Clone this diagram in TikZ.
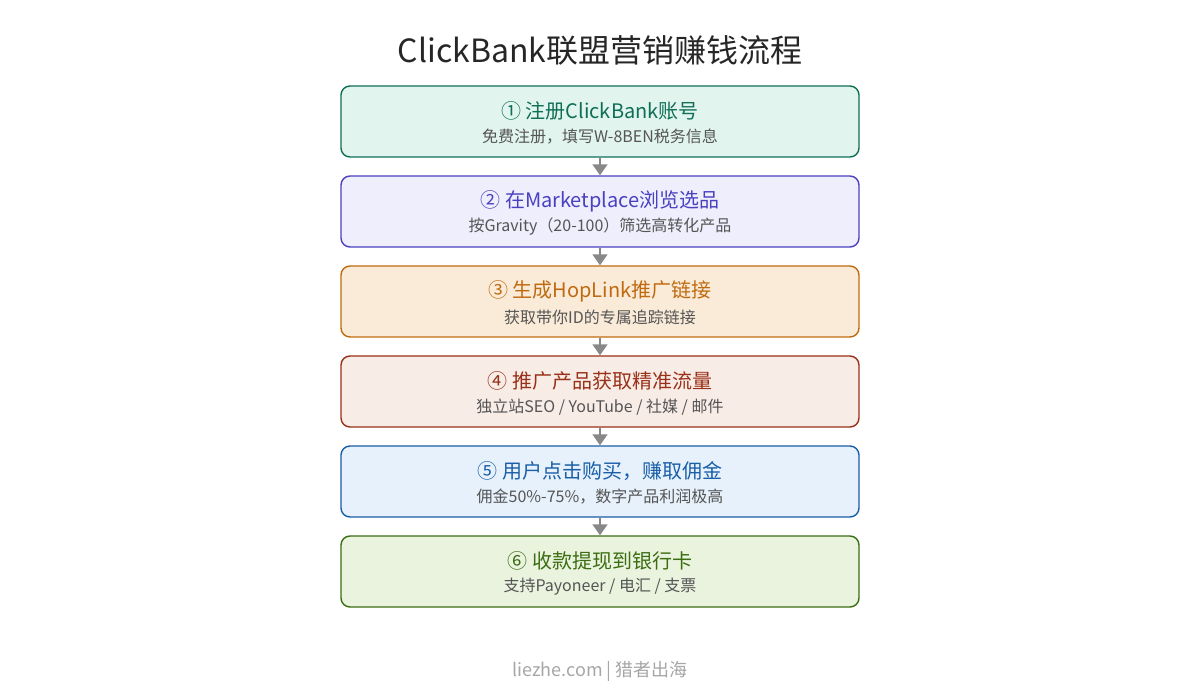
\documentclass[tikz,border=0pt]{standalone}
\usepackage{fontspec}
\setmainfont{Noto Sans CJK SC}
\usetikzlibrary{arrows.meta,positioning}
\definecolor{fgA}{HTML}{0F6E56}\definecolor{bgA}{HTML}{E1F5EE}
\definecolor{fgB}{HTML}{4A40C0}\definecolor{bgB}{HTML}{EEEEFC}
\definecolor{fgC}{HTML}{C06A10}\definecolor{bgC}{HTML}{FAEBD8}
\definecolor{fgD}{HTML}{993018}\definecolor{bgD}{HTML}{F8ECE7}
\definecolor{fgE}{HTML}{1A5EA8}\definecolor{bgE}{HTML}{E6F1FB}
\definecolor{fgF}{HTML}{3B6D11}\definecolor{bgF}{HTML}{EAF3DE}
\definecolor{subtxt}{HTML}{555555}
\definecolor{arrowgray}{HTML}{888888}
\tikzset{
  stepbox/.style={draw=#1, line width=1.4pt, rounded corners=9pt, minimum width=518pt, minimum height=71pt},
  steparrow/.style={draw=arrowgray, line width=1.5pt, -{Triangle[length=11pt,width=15pt]}, fill=arrowgray}
}
\begin{document}
\begin{tikzpicture}[x=1pt, y=-1pt]
  \useasboundingbox (0,0) rectangle (1200,700);
  % title
  \node (title) at (600,50) {\fontsize{32}{38}\selectfont\color{black!85}ClickBank联盟营销赚钱流程};

  % steps
  \foreach \i/\c/\head/\sub in {
      1/A/{① 注册ClickBank账号}/{免费注册，填写W-8BEN税务信息},
      2/B/{② 在Marketplace浏览选品}/{按Gravity（20-100）筛选高转化产品},
      3/C/{③ 生成HopLink推广链接}/{获取带你ID的专属追踪链接},
      4/D/{④ 推广产品获取精准流量}/{独立站SEO / YouTube / 社媒 / 邮件},
      5/E/{⑤ 用户点击购买，赚取佣金}/{佣金50\%-75\%，数字产品利润极高},
      6/F/{⑥ 收款提现到银行卡}/{支持Payoneer / 电汇 / 支票}} {
    \node[stepbox=fg\c, fill=bg\c] (s\i) at (600,{121.5+90*(\i-1)}) {};
    \node[text=fg\c, font=\fontsize{20}{24}\selectfont] (h\i) at (600,{111+90*(\i-1)}) {\head};
    \node[text=subtxt, font=\fontsize{16}{19}\selectfont] (t\i) at (600,{137+90*(\i-1)}) {\sub};
  }

  % connectors
  \foreach \i [evaluate=\i as \j using int(\i+1)] in {1,...,5}
    \draw[steparrow] (s\i.south) -- (s\j.north);

  % footer
  \node (foot) at (600,671) {\fontsize{18}{22}\selectfont\color{black!35}liezhe.com | 猎者出海};
\end{tikzpicture}
\end{document}
